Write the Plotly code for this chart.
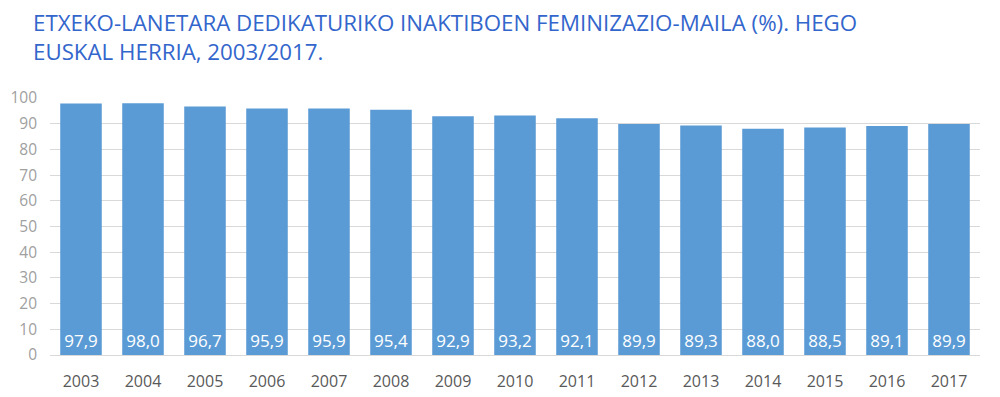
import plotly.graph_objects as go

years = ["2003", "2004", "2005", "2006", "2007", "2008", "2009", "2010",
         "2011", "2012", "2013", "2014", "2015", "2016", "2017"]
values = [97.9, 98.0, 96.7, 95.9, 95.9, 95.4, 92.9, 93.2, 92.1, 89.9,
          89.3, 88.0, 88.5, 89.1, 89.9]
labels = [f"{v:.1f}".replace(".", ",") for v in values]
title_text = ("ETXEKO-LANETARA DEDIKATURIKO INAKTIBOEN FEMINIZAZIO-MAILA (%). HEGO<br>"
              "EUSKAL HERRIA, 2003/2017.")

# page body has an 8px margin, so offsets are compensated here
L, R, T, B = 42, 28, 90, 50
W, H = 1000, 397
ph = H - T - B
pw = W - L - R

fig = go.Figure(go.Bar(
    x=years, y=values, text=labels,
    textposition="inside", insidetextanchor="start",
    textfont=dict(color="white", size=17, family="Open Sans"),
    marker=dict(color="#5B9BD5", line=dict(width=0)),
    textangle=0,
))

fig.update_layout(
    width=W, height=H,
    paper_bgcolor="white", plot_bgcolor="white",
    margin=dict(l=L, r=R, t=T, b=B, autoexpand=False),
    bargap=0.33,
    showlegend=False,
    font=dict(family="Open Sans"),
    annotations=[dict(
        text=title_text, xref="paper", yref="paper",
        x=(24 - L) / pw, xanchor="left", y=1 + (T + 2) / ph, yanchor="top",
        align="left", showarrow=False, borderpad=0,
        font=dict(family="Open Sans", size=22.3, color="#3366CC"),
    )],
)
fig.update_yaxes(range=[0, 100], dtick=10, showgrid=True, gridcolor="#D9D9D9",
                 gridwidth=1, zeroline=False, showline=False,
                 tickfont=dict(size=15.5, color="#A0A0A0"), ticklabelstandoff=12)
fig.update_xaxes(showline=True, linecolor="#D9D9D9", linewidth=1,
                 tickfont=dict(size=16, color="#595959"), ticks="",
                 ticklabelstandoff=12)

fig.write_html("out.html")
